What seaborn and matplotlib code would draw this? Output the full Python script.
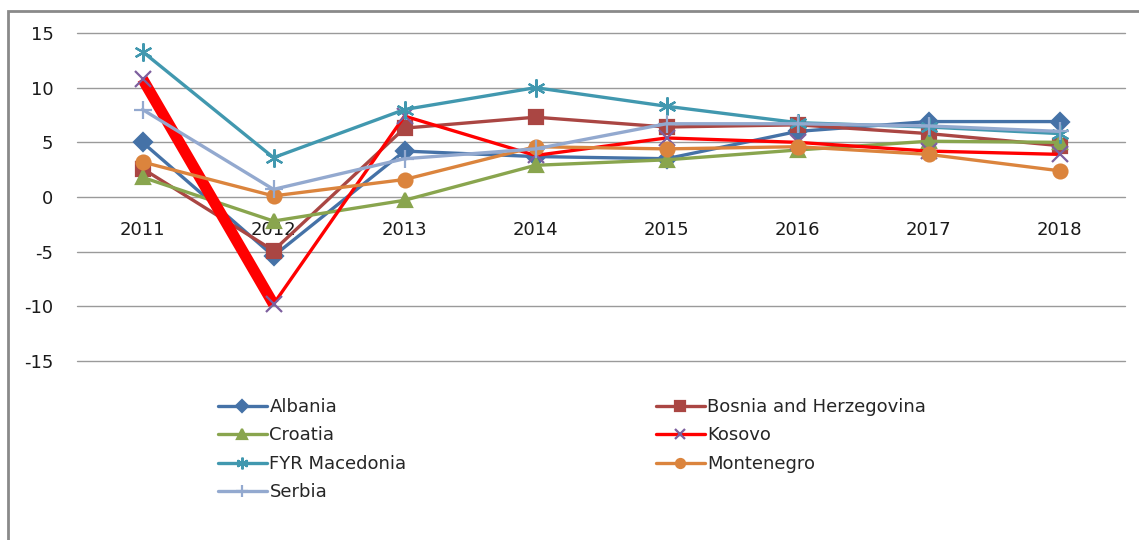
import matplotlib.pyplot as plt
import seaborn as sns
from matplotlib.patches import Rectangle

years = ['2011', '2012', '2013', '2014', '2015', '2016', '2017', '2018']
countries = ['Albania', 'Bosnia and Herzegovina', 'Croatia', 'Kosovo',
             'FYR Macedonia', 'Montenegro', 'Serbia']

albania = [5.0, -5.4, 4.2, 3.7, 3.5, 6.0, 6.9, 6.9]
bosnia = [2.6, -4.9, 6.3, 7.3, 6.4, 6.6, 5.8, 4.7]
croatia = [1.8, -2.2, -0.3, 2.9, 3.4, 4.3, 5.1, 5.0]
kosovo = [10.8, -9.8, 7.4, 3.8, 5.4, 5.0, 4.2, 3.9]
macedonia = [13.3, 3.6, 8.0, 10.0, 8.3, 6.8, 6.4, 5.8]
montenegro = [3.2, 0.1, 1.6, 4.6, 4.4, 4.6, 3.9, 2.4]
serbia = [8.0, 0.7, 3.5, 4.4, 6.7, 6.7, 6.5, 6.0]

series = [albania, bosnia, croatia, kosovo, macedonia, montenegro, serbia]

# colour, marker, marker size, marker edge colour
styles = {
    'Albania': ('#4572A7', 'D', 9, '#4572A7'),
    'Bosnia and Herzegovina': ('#AA4643', 's', 10, '#AA4643'),
    'Croatia': ('#89A54E', '^', 10, '#89A54E'),
    'Kosovo': ('#FF0000', 'x', 11, '#7D5F9E'),
    'FYR Macedonia': ('#4198AF', (6, 2, 0), 13, '#4198AF'),
    'Montenegro': ('#DB843D', 'o', 10, '#DB843D'),
    'Serbia': ('#93A9CF', '+', 13, '#93A9CF'),
}

sns.set_theme(style='white')
plt.rcParams['font.family'] = ['DejaVu Sans']
plt.rcParams['axes.unicode_minus'] = False

fig = plt.figure(figsize=(11.39, 5.4), dpi=100)
ax = fig.add_axes([77 / 1139, 1 - 361 / 540, (1125 - 77) / 1139, (361 - 33) / 540])

x = list(range(len(years)))
for name, vals in zip(countries, series):
    col, mk, ms, mec = styles[name]
    if name == 'Kosovo':
        # the first segment is drawn much thicker in the original
        sns.lineplot(x=x[:2], y=vals[:2], ax=ax, color=col, linewidth=8,
                     solid_capstyle='butt')
    sns.lineplot(x=x, y=vals, ax=ax, color=col, linewidth=2.4, marker=mk,
                 markersize=ms, markeredgecolor=mec, markerfacecolor=col,
                 markeredgewidth=1.6, label=name)

ax.set_xlim(-0.5, 7.5)
ax.set_ylim(-15, 15)
ax.set_yticks(range(-15, 20, 5))
ax.set_xticks(x)
ax.set_xticklabels(years)
ax.grid(axis='y', color='#9a9a9a', linewidth=1.0)
for gl in ax.get_ygridlines():
    gl.set_clip_on(False)
ax.set_axisbelow(True)
for s in ['top', 'right', 'left']:
    ax.spines[s].set_visible(False)
ax.spines['bottom'].set_position(('data', 0))
ax.spines['bottom'].set_color('none')
ax.tick_params(axis='x', length=0, pad=17, labelsize=13, labelcolor='#1a1a1a')
ax.tick_params(axis='y', length=0, pad=17, labelsize=13, labelcolor='#1a1a1a')
ax.set_xlabel('')
ax.set_ylabel('')

handles, labels = ax.get_legend_handles_labels()
ax.get_legend().remove()
order = ['Albania', 'Croatia', 'FYR Macedonia', 'Serbia',
         'Bosnia and Herzegovina', 'Kosovo', 'Montenegro']
hmap = dict(zip(labels, handles))
fig.legend([hmap[n] for n in order], order, loc='upper left',
           bbox_to_anchor=(218 / 1139, 1 - 398 / 540), ncol=2, frameon=False,
           fontsize=13, handlelength=2.7, handletextpad=0.15,
           columnspacing=13.8, labelspacing=0.58, borderpad=0, borderaxespad=0,
           markerscale=0.65)

fig.patches.append(Rectangle((8 / 1139, -0.1), 1.2, 1.1 - 11 / 540,
                             transform=fig.transFigure, fill=False,
                             edgecolor='#8a8a8a', linewidth=2))

fig.savefig('out.png', dpi=100, facecolor='white')
